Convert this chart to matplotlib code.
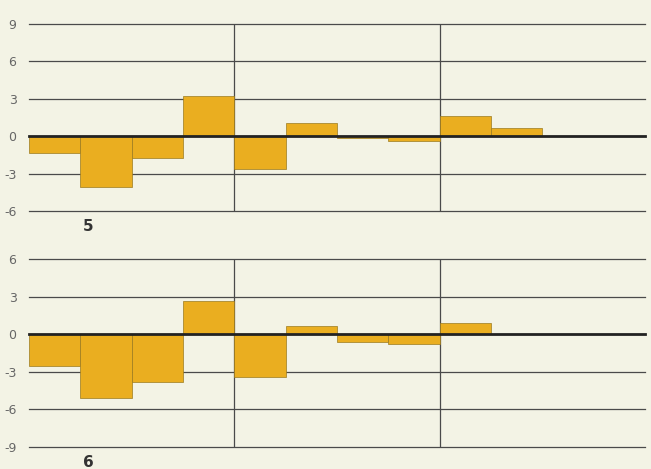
import matplotlib.pyplot as plt

# twelve periods per panel, three groups of four
periods = list(range(12))
top_values = [-1.35, -4.1, -1.75, 3.2, -2.6, 1.05, -0.15, -0.4, 1.6, 0.65, 0.0, 0.0]
bottom_values = [-2.5, -5.1, -3.85, 2.65, -3.4, 0.65, -0.6, -0.8, 0.9, 0.0, 0.0, 0.0]
top_ticks = [9, 6, 3, 0, -3, -6]
bottom_ticks = [6, 3, 0, -3, -6, -9]
group_lines = [4, 8]
panel_labels = ["5", "6"]

bg = "#f3f3e5"
bar_color = "#eaae20"

fig = plt.figure(figsize=(6.51, 4.69), dpi=100)
fig.patch.set_facecolor(bg)

ax_top = fig.add_axes([0.0445, 0.550, 0.9465, 0.3987])
ax_bot = fig.add_axes([0.0445, 0.0469, 0.9465, 0.4009])

for ax, vals, ticks, label in [(ax_top, top_values, top_ticks, panel_labels[0]),
                               (ax_bot, bottom_values, bottom_ticks, panel_labels[1])]:
    ax.set_facecolor(bg)
    ax.bar([p + 0.5 for p in periods], vals, width=1.0, color=bar_color,
           edgecolor="#9a7a20", linewidth=0.5, zorder=2)
    for t in ticks:
        if t == 0:
            ax.axhline(t, color="#222222", linewidth=2.0, zorder=3, clip_on=False)
        else:
            ax.axhline(t, color="#4a4a4a", linewidth=0.9, zorder=1, clip_on=False)
    for g in group_lines:
        ax.axvline(g, color="#4a4a4a", linewidth=0.9, zorder=1)
    ax.set_xlim(0, 12)
    ax.set_ylim(min(ticks), max(ticks))
    ax.set_yticks(ticks)
    ax.set_yticklabels([str(t) for t in ticks])
    ax.set_xticks([])
    ax.tick_params(axis="y", length=0, pad=9, labelsize=9, labelcolor="#666666")
    for s in ax.spines.values():
        s.set_visible(False)
    ax.text(1.15, -0.04, label, transform=ax.get_xaxis_transform(),
            ha="center", va="top", fontsize=11, fontweight="bold", color="#333333")

fig.savefig("out.png", dpi=100, facecolor=bg)
